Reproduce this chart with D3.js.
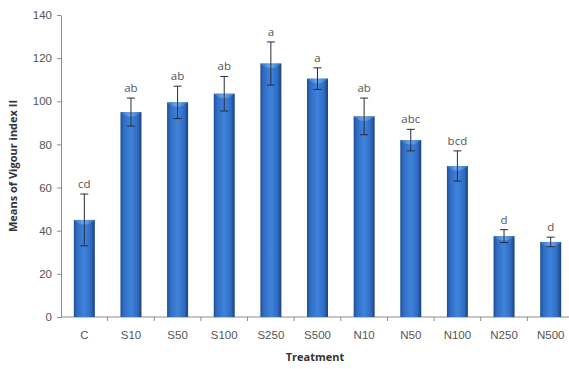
<!DOCTYPE html>
<html>
<head>
<meta charset="utf-8">
<script src="https://cdn.jsdelivr.net/npm/d3@7/dist/d3.min.js"></script>
<style>
  html, body { margin: 0; padding: 0; background: #fff; }
  svg { display: block; font-family: "Open Sans", "Liberation Sans", sans-serif; }
</style>
</head>
<body>
<svg id="chart" width="569" height="369"></svg>
<script>
// Treatments and their mean Vigour index II, with error bar half-widths and grouping letters
const treatments = ["C", "S10", "S50", "S100", "S250", "S500", "N10", "N50", "N100", "N250", "N500"];
const means      = [45, 95, 99.5, 103.5, 117.5, 110.5, 93, 82, 70, 37.5, 34.8];
const errors     = [12, 6.5, 7.5, 8, 10, 5, 8.5, 5, 7, 3, 2.2];
const letters    = ["cd", "ab", "ab", "ab", "a", "a", "ab", "abc", "bcd", "d", "d"];
const yTicks     = [0, 20, 40, 60, 80, 100, 120, 140];

const svg = d3.select("#chart");
const margin = { left: 61, right: -5, top: 15, bottom: 52 };
const W = 569, H = 369;

const x = d3.scaleBand()
  .domain(treatments)
  .range([margin.left, W - margin.right])
  .paddingInner(0.55)
  .paddingOuter(0.275);

const y = d3.scaleLinear()
  .domain([0, 140])
  .range([H - margin.bottom, margin.top]);

// Bar shading: dark edges, bright middle
const defs = svg.append("defs");
const grad = defs.append("linearGradient").attr("id", "barGrad")
  .attr("x1", "0%").attr("x2", "100%").attr("y1", "0%").attr("y2", "0%");
[["0%", "#1f4e96"], ["15%", "#2f6cc2"], ["50%", "#3f84dc"], ["82%", "#2f6bc0"], ["100%", "#183f7e"]]
  .forEach(([o, c]) => grad.append("stop").attr("offset", o).attr("stop-color", c));
const capGrad = defs.append("linearGradient").attr("id", "capGrad")
  .attr("x1", "0%").attr("x2", "100%");
[["0%", "#3a74c4"], ["50%", "#78b0ee"], ["100%", "#356cb8"]]
  .forEach(([o, c]) => capGrad.append("stop").attr("offset", o).attr("stop-color", c));

const axisColor = "#8c8c8c";
const textColor = "#555";

// Y axis
const yAxis = svg.append("g")
  .attr("transform", `translate(${margin.left},0)`)
  .call(d3.axisLeft(y).tickValues(yTicks).tickSize(4).tickSizeOuter(0).tickPadding(5));
yAxis.select(".domain").attr("stroke", axisColor);
yAxis.selectAll(".tick line").attr("stroke", axisColor);
yAxis.selectAll(".tick text").attr("fill", textColor).attr("font-size", 11.5);

// X axis with ticks between categories
const xAxis = svg.append("g")
  .attr("transform", `translate(0,${y(0)})`)
  .call(d3.axisBottom(x).tickSize(0).tickPadding(14));
xAxis.select(".domain").attr("stroke", axisColor).attr("d", `M${margin.left},0H${W}`);
xAxis.selectAll(".tick text").attr("fill", textColor).attr("font-size", 11.5);
const step = x.step();
svg.append("g").selectAll("line")
  .data(treatments)
  .join("line")
  .attr("x1", d => x(d) - x.paddingInner() * step / 2 + step)
  .attr("x2", d => x(d) - x.paddingInner() * step / 2 + step)
  .attr("y1", y(0)).attr("y2", y(0) + 4)
  .attr("stroke", axisColor);

// Bars
const bars = svg.append("g");
bars.selectAll("rect.bar")
  .data(treatments)
  .join("rect")
  .attr("class", "bar")
  .attr("x", d => x(d))
  .attr("width", x.bandwidth())
  .attr("y", (d, i) => y(means[i]))
  .attr("height", (d, i) => y(0) - y(means[i]))
  .attr("fill", "url(#barGrad)");
// lighter top cap
bars.selectAll("path.cap")
  .data(treatments)
  .join("path")
  .attr("class", "cap")
  .attr("d", (d, i) => {
    const x0 = x(d), w = x.bandwidth(), t = y(means[i]);
    return `M${x0},${t}H${x0 + w}Q${x0 + w / 2},${t + 9} ${x0},${t}Z`;
  })
  .attr("fill", "url(#capGrad)")
  .attr("opacity", 0.85);

// Error bars
const eb = svg.append("g").attr("stroke", "#2a2a3a").attr("stroke-width", 1);
treatments.forEach((d, i) => {
  const cx = x(d) + x.bandwidth() / 2;
  const hi = y(means[i] + errors[i]), lo = y(means[i] - errors[i]);
  eb.append("line").attr("x1", cx).attr("x2", cx).attr("y1", hi).attr("y2", lo);
  eb.append("line").attr("x1", cx - 4).attr("x2", cx + 4).attr("y1", hi).attr("y2", hi);
  eb.append("line").attr("x1", cx - 4).attr("x2", cx + 4).attr("y1", lo).attr("y2", lo);
});

// Grouping letters
svg.append("g").selectAll("text")
  .data(treatments)
  .join("text")
  .attr("x", d => x(d) + x.bandwidth() / 2)
  .attr("y", (d, i) => y(means[i] + errors[i]) - 6)
  .attr("text-anchor", "middle")
  .attr("fill", textColor)
  .attr("font-size", 11.5)
  .text((d, i) => letters[i]);

// Axis titles
svg.append("text")
  .attr("transform", `translate(17,${(y(0) + y(140)) / 2}) rotate(-90)`)
  .attr("text-anchor", "middle")
  .attr("font-weight", "bold")
  .attr("font-size", 11)
  .attr("fill", "#333")
  .text("Means of Vigour index II");
svg.append("text")
  .attr("x", 315).attr("y", 361)
  .attr("text-anchor", "middle")
  .attr("font-weight", "bold")
  .attr("font-size", 11)
  .attr("fill", "#333")
  .text("Treatment");
</script>
</body>
</html>
